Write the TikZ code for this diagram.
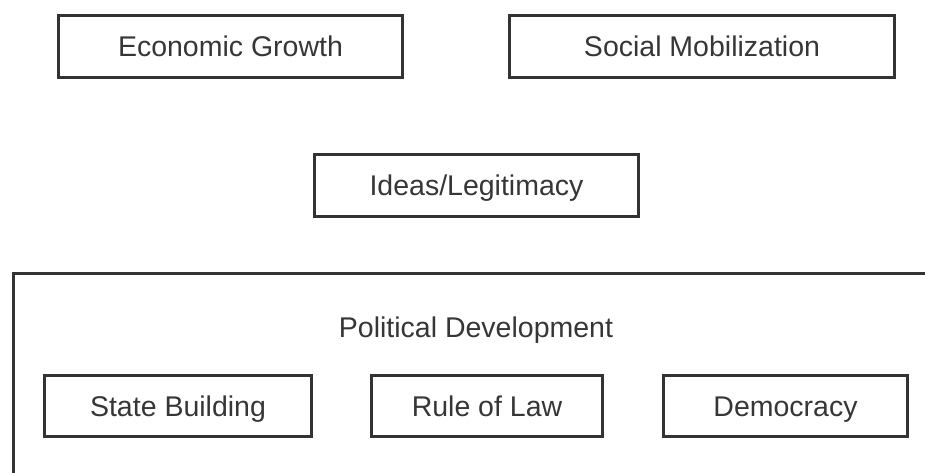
\documentclass[tikz,border=0pt]{standalone}
\usepackage{fontspec}
\setmainfont{Liberation Sans}
\definecolor{ink}{HTML}{333333}
\definecolor{txt}{HTML}{363636}
\tikzset{
  boxnode/.style={draw=ink, line width=3pt, inner sep=0pt, text=txt, text height=20.5pt, text depth=0pt, font=\fontsize{28.5}{30}\selectfont},
  plain/.style={inner sep=0pt, text=txt, text height=20.5pt, text depth=0pt, font=\fontsize{28.5}{30}\selectfont},
}
\begin{document}
\begin{tikzpicture}[x=1pt,y=-1pt]
\useasboundingbox (0,0) rectangle (925,473);
\clip (0,0) rectangle (925,473);
\draw[ink, line width=3pt] (13,273) rectangle (960,520);
\node[boxnode, minimum width=344pt, minimum height=62pt] (eg) at (230.5,46.5) {Economic Growth};
\node[boxnode, minimum width=385pt, minimum height=62pt] (sm) at (702,46.5) {Social Mobilization};
\node[boxnode, minimum width=324pt, minimum height=62pt] (il) at (476.5,185.5) {Ideas/Legitimacy};
\node[plain] (pd) at (476,327.5) {Political Development};
\node[boxnode, minimum width=267pt, minimum height=61pt] (sb) at (178,406) {State Building};
\node[boxnode, minimum width=231pt, minimum height=61pt] (rl) at (487,406) {Rule of Law};
\node[boxnode, minimum width=244pt, minimum height=61pt] (de) at (785.5,406) {Democracy};
\end{tikzpicture}
\end{document}
